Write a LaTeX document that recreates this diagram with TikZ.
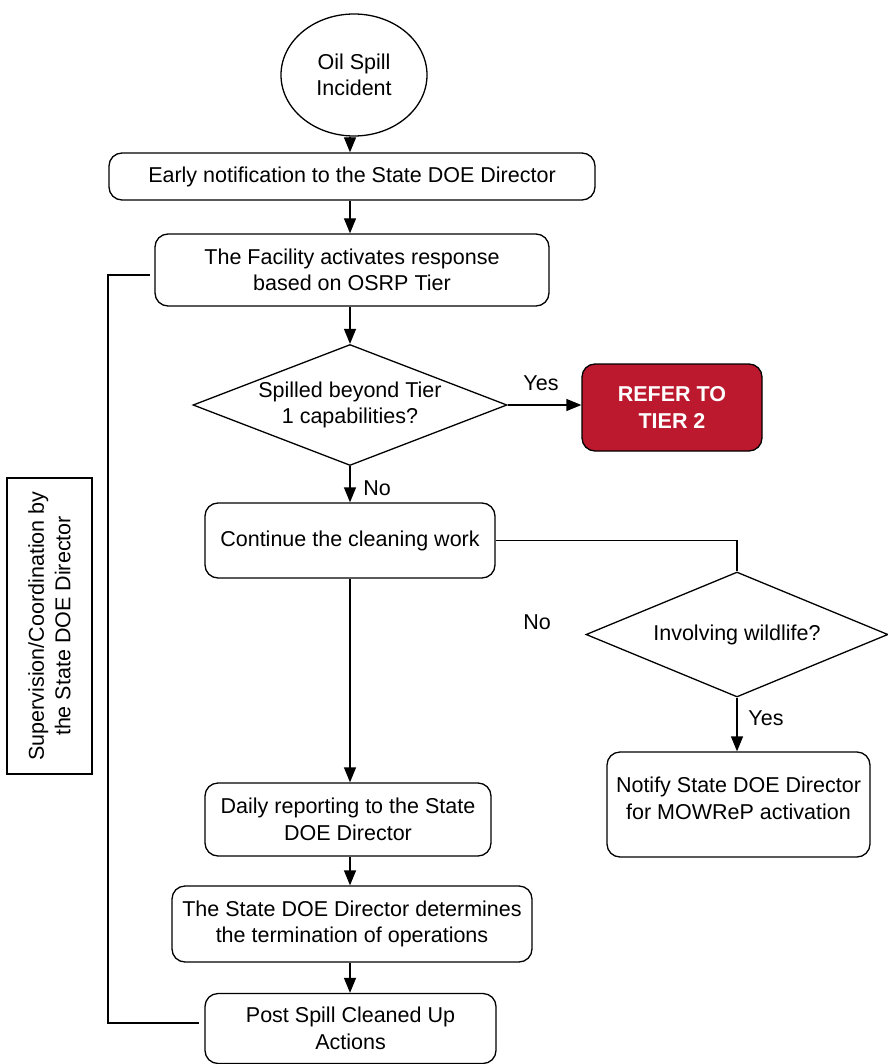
\documentclass[tikz,border=0pt]{standalone}
\usepackage{fontspec}
\setmainfont{Liberation Sans}
\usetikzlibrary{arrows.meta,shapes.geometric}
\definecolor{tierred}{RGB}{188,25,47}
\tikzset{
  base/.style={draw=black, line width=1.3pt, inner sep=0pt, align=center, font=\fontsize{21.5}{26.5}\selectfont},
  stepbox/.style={base, rectangle, rounded corners=13pt},
  redbox/.style={stepbox, fill=tierred, text=white, font=\fontsize{21.5}{26.5}\selectfont\bfseries},
  decision/.style={base, diamond, aspect=2.5},
  startnode/.style={base, ellipse},
  sidebox/.style={base, rectangle},
  lbl/.style={font=\fontsize{21.5}{26.5}\selectfont, inner sep=0pt},
  flow/.style={line width=1.3pt, -{Triangle[length=15pt,width=12pt]}},
  link/.style={line width=1.3pt}
}
\begin{document}
\begin{tikzpicture}[x=1pt,y=-1pt]
\useasboundingbox (0,0) rectangle (887,1064);
\node[startnode, minimum width=146pt, minimum height=122pt] (oil) at (354,75) {Oil Spill\\Incident};
\node[stepbox, minimum width=486pt, minimum height=47pt] (early) at (352,176.5) {Early notification to the State DOE Director};
\node[stepbox, minimum width=394pt, minimum height=72pt] (fac) at (352,270) {The Facility activates response\\based on OSRP Tier};
\node[decision, minimum width=314pt, minimum height=121pt] (d1) at (350,405) {Spilled beyond Tier\\1 capabilities?};
\node[redbox, minimum width=180pt, minimum height=87pt] (refer) at (672,407.5) {REFER TO\\TIER 2};
\node[stepbox, minimum width=290pt, minimum height=75pt] (cont) at (350,540.5) {Continue the cleaning work};
\node[decision, minimum width=302pt, minimum height=125pt] (d2) at (737,634.5) {Involving wildlife?};
\node[stepbox, minimum width=263pt, minimum height=105pt] (notify) at (738.5,804.5) {Notify State DOE Director\\for MOWReP activation\\[-14pt]};
\node[stepbox, minimum width=286pt, minimum height=73pt] (daily) at (348,819.5) {Daily reporting to the State\\DOE Director};
\node[stepbox, minimum width=360pt, minimum height=76pt] (term) at (352,924) {The State DOE Director determines\\the termination of operations};
\node[stepbox, minimum width=291pt, minimum height=70pt] (post) at (350.5,1028.5) {Post Spill Cleaned Up\\Actions};
\node[sidebox, minimum width=85pt, minimum height=296pt] (side) at (49.5,626) {};
\node[lbl, rotate=90, align=center] (sidetext) at (side.center) {Supervision/Coordination by\\the State DOE Director};

\node[lbl] (yes1) at (541,383) {Yes};
\node[lbl] (no1) at (377,488) {No};
\node[lbl] (no2) at (537,622) {No};
\node[lbl] (yes2) at (766,718) {Yes};

\draw[flow] (oil.south -| d1.north) -- (early.north -| d1.north);
\draw[flow] (early.south -| d1.north) -- (fac.north -| d1.north);
\draw[flow] (fac.south -| d1.north) -- (d1.north);
\draw[flow] (d1.south) -- (cont.north);
\draw[flow] (d1.east) -- (d1.east -| refer.west);
\draw[flow] (cont.south) -- (daily.north -| cont.south);
\draw[flow] (daily.south -| cont.south) -- (term.north -| cont.south);
\draw[flow] (term.south -| cont.south) -- (post.north -| cont.south);
\draw[link] (cont.east) -- (cont.east -| d2.north) -- (d2.north);
\draw[flow] (d2.south) -- (notify.north -| d2.south);
\coordinate (b1) at (150,275);
\coordinate (b2) at (199,1023);
\draw[link] (b1) -- (108,275) |- (b2);
\end{tikzpicture}
\end{document}
